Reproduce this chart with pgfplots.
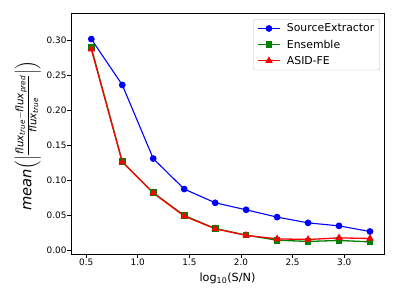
\documentclass[border=0pt]{standalone}
\usepackage{amsmath}
\usepackage{pgfplots}
\pgfplotsset{compat=1.18}
\usepackage{fontspec}
\setmainfont{DejaVu Sans}
\newcommand{\ti}[1]{\text{\itshape #1}}
\definecolor{mblue}{rgb}{0,0,1}
\definecolor{mgreen}{rgb}{0,0.5,0}
\definecolor{mred}{rgb}{1,0,0}
\begin{document}
\begin{tikzpicture}
\useasboundingbox (-71bp,-45bp) rectangle (328bp,254bp);
\begin{axis}[
  scale only axis,
  width=313bp, height=241bp,
  xmin=0.353, xmax=3.386,
  ymin=-0.005, ymax=0.3386,
  xtick={0.5,1.0,1.5,2.0,2.5,3.0},
  ytick={0,0.05,0.10,0.15,0.20,0.25,0.30},
  tick pos=left,
  tick align=outside,
  major tick length=3.5bp,
  axis line style={line width=0.7bp},
  every tick/.style={black, line width=0.7bp},
  /pgf/number format/assume math mode=true,
  xticklabel style={/pgf/number format/.cd, fixed, fixed zerofill, precision=1, /tikz/.cd, yshift=2bp},
  yticklabel style={/pgf/number format/.cd, fixed, fixed zerofill, precision=2, /tikz/.cd, xshift=2.5bp},
  ticklabel style={font=\fontsize{8.9}{10}\selectfont},
  scaled y ticks=false,
  xlabel={log\textsubscript{10}(S/N)},
  xlabel style={font=\fontsize{11.3}{13}\selectfont, at={(axis description cs:0.5,-0.102)}, anchor=center},
  ylabel={{\itshape mean}$\left(\left|\frac{\ti{flux}_{\ti{true}}-\ti{flux}_{\ti{pred}}}{\ti{flux}_{\ti{true}}}\right|\right)$},
  ylabel style={font=\fontsize{14.7}{16}\selectfont, at={(axis description cs:-0.138,0.49)}, anchor=center},
  legend style={at={(axis description cs:0.987,0.975)}, anchor=north east,
    draw=black!25, rounded corners=2bp, fill=white,
    font=\fontsize{10.9}{12}\selectfont, row sep=2.5bp, inner xsep=3.5bp, inner ysep=2.5bp,
    /tikz/every odd column/.append style={column sep=4bp}},
  legend cell align=left,
  legend image code/.code={\draw[mark repeat=2,mark phase=2] plot coordinates {(0cm,0cm) (0.4cm,0cm) (0.8cm,0cm)};},
]
\addplot[color=mblue, line width=1.1bp, mark=*, mark size=2.8bp, mark options={solid, fill=mblue, draw=mblue}] coordinates {
(0.55,0.3014) (0.85,0.236) (1.15,0.131) (1.45,0.0876) (1.75,0.068) (2.05,0.058) (2.35,0.0476) (2.65,0.0394) (2.95,0.0351) (3.25,0.0271)};
\addlegendentry{SourceExtractor}
\addplot[color=mgreen, line width=1.3bp, mark=square*, mark size=2.7bp, mark options={solid, fill=mgreen, draw=mgreen}] coordinates {
(0.55,0.289) (0.85,0.1266) (1.15,0.0823) (1.45,0.050) (1.75,0.0314) (2.05,0.0219) (2.35,0.0147) (2.65,0.0129) (2.95,0.0143) (3.25,0.0123)};
\addlegendentry{Ensemble}
\addplot[color=mred, line width=1.3bp, mark=triangle*, mark size=3.1bp, mark options={solid, fill=mred, draw=mred}] coordinates {
(0.55,0.287) (0.85,0.126) (1.15,0.082) (1.45,0.049) (1.75,0.031) (2.05,0.0215) (2.35,0.0166) (2.65,0.0157) (2.95,0.018) (3.25,0.0171)};
\addlegendentry{ASID-FE}
\end{axis}
\end{tikzpicture}
\end{document}
